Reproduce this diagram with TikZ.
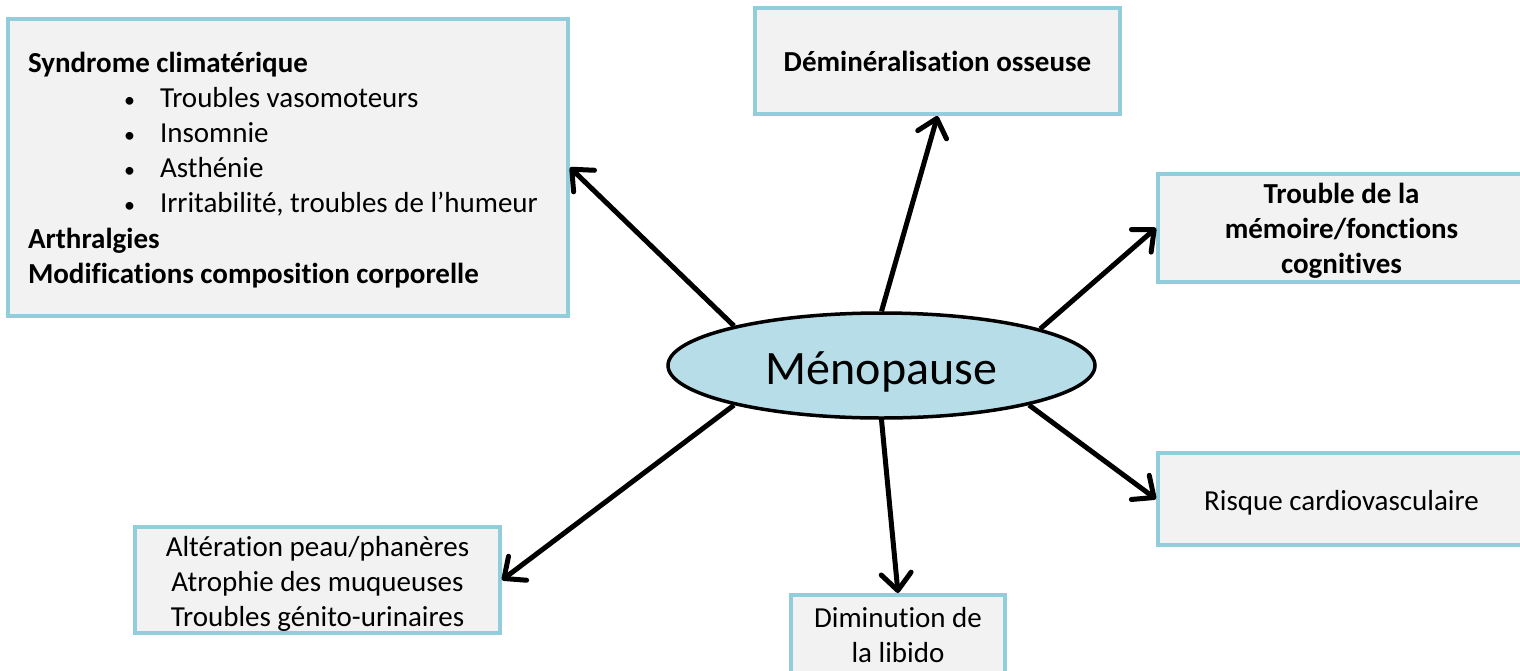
\documentclass[tikz,border=0pt]{standalone}
\usepackage{fontspec}
\setmainfont{Carlito}[Ligatures=NoCommon]
\usetikzlibrary{shapes.geometric,arrows.meta}
\definecolor{bordc}{HTML}{92CDDC}
\definecolor{boxf}{HTML}{F2F2F2}
\definecolor{ellf}{HTML}{B7DEE8}
\newcommand{\bul}{\makebox[132pt][l]{\hspace*{96pt}{\fontsize{22}{22}\selectfont •}}}
\begin{document}
\begin{tikzpicture}[x=1pt,y=-1pt,
  box/.style={draw=bordc, line width=4pt, fill=boxf, inner sep=0pt,
    font=\fontsize{29}{35}\selectfont, align=center},
  arr/.style={line width=5pt, -{Straight Barb[length=17pt,width=30pt,round]}}
]
\useasboundingbox (0,0) rectangle (1520,670);
\clip (0,0) rectangle (1520,670);

\node[box, minimum width=560pt, minimum height=297pt] (L) at (288,167.5)
  {\parbox{520pt}{\raggedright\vspace*{6pt}%
   \textbf{Syndrome climatérique}\\
   \bul Troubles vasomoteurs\\
   \bul Insomnie\\
   \bul Asthénie\\
   \bul Irritabilité, troubles de l’humeur\\[1pt]
   \textbf{Arthralgies}\\
   \textbf{Modifications composition corporelle}}};

\node[box, minimum width=365pt, minimum height=106pt] (D) at (937.5,61)
  {\textbf{Déminéralisation osseuse}};

\node[box, minimum width=367pt, minimum height=108pt] (T) at (1341.5,228)
  {\rule{0pt}{26pt}\textbf{Trouble de la}\\\textbf{mémoire/fonctions}\\\textbf{cognitives}};

\node[box, minimum width=367pt, minimum height=92pt] (R) at (1341.5,499)
  {\rule{0pt}{28pt}Risque cardiovasculaire};

\node[box, minimum width=214pt, minimum height=80pt] (Dm) at (898,635)
  {Diminution de\\la libido};

\node[box, minimum width=365pt, minimum height=106pt] (A) at (317.5,580)
  {\rule{0pt}{28pt}Altération peau/phanères\\Atrophie des muqueuses\\Troubles génito-urinaires};

\node[draw, line width=3.5pt, fill=ellf, ellipse, minimum width=427pt, minimum height=105pt,
  inner sep=0pt, font=\fontsize{48}{56}\selectfont] (M) at (881.5,365.5) {\rule{0pt}{46pt}Ménopause};

\draw[arr] (M.165.6) -- (L.east);
\draw[arr] (M.north) -- (D.south);
\draw[arr] (M.13.9) -- (T.west);
\draw[arr] (M.-15.7) -- (R.west);
\draw[arr] (M.south) -- (Dm.north);
\draw[arr] (M.195.7) -- (A.east);
\end{tikzpicture}
\end{document}
